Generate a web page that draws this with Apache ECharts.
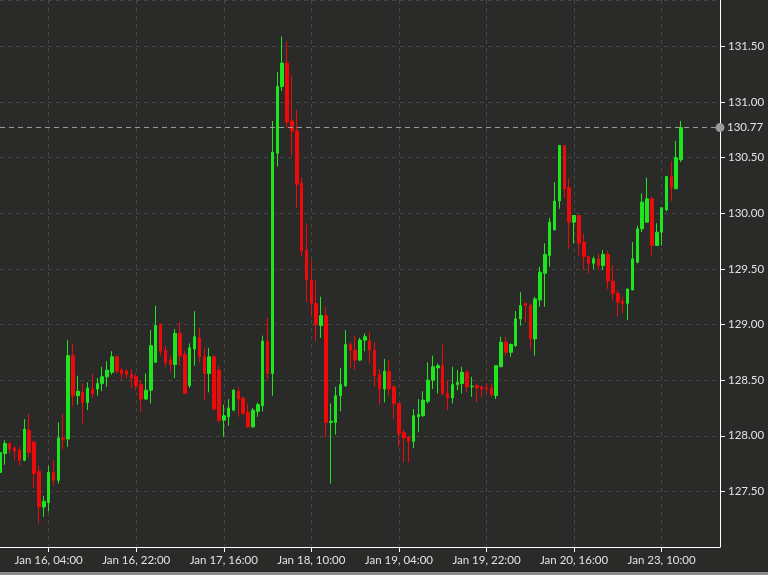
<!DOCTYPE html>
<html>
<head>
<meta charset="utf-8">
<script src="https://cdn.jsdelivr.net/npm/echarts@6/dist/echarts.min.js"></script>
<style>
html,body{margin:0;padding:0;background:#2a2a28;}
#chart{width:768px;height:575px;}
</style>
</head>
<body>
<div id="chart"></div>
<script>
// Hourly candles (weekend gap removed)
const startLabelsFriday = ['Jan 13, 18:00','Jan 13, 19:00','Jan 13, 20:00','Jan 13, 21:00'];
const xTickLabels = ['Jan 16, 04:00','Jan 16, 22:00','Jan 17, 16:00','Jan 18, 10:00','Jan 19, 04:00','Jan 19, 22:00','Jan 20, 16:00','Jan 23, 10:00'];
const yTicks = [127.5,128.0,128.5,129.0,129.5,130.0,130.5,131.0,131.5];
const lastPrice = 130.77;

const opens = [
127.67,127.84,127.93,127.89,127.87,127.78,128.05,127.94,127.68,127.36,
127.40,127.67,127.60,127.98,127.97,128.72,128.36,128.39,128.30,128.42,
128.42,128.47,128.53,128.57,128.71,128.59,128.58,128.55,128.53,128.46,
128.33,128.41,128.66,129.00,128.77,128.68,128.64,128.92,128.73,128.45,
128.78,128.88,128.71,128.56,128.71,128.59,128.14,128.17,128.23,128.40,
128.34,128.21,128.08,128.22,128.27,128.85,128.56,130.54,131.14,131.35,
130.83,130.74,130.27,129.67,129.40,129.19,128.99,129.08,128.12,128.12,
128.36,128.45,128.82,128.77,128.68,128.86,128.85,128.77,128.55,128.42,
128.58,128.44,128.29,128.03,127.99,127.95,128.17,128.18,128.31,128.50,
128.61,128.63,128.38,128.34,128.46,128.47,128.57,128.44,128.45,128.44,
128.43,128.43,128.36,128.62,128.84,128.75,128.81,129.05,129.19,129.17,
128.87,129.22,129.46,129.62,129.85,130.11,130.61,130.23,129.92,129.98,
129.74,129.61,129.55,129.59,129.53,129.63,129.39,129.28,129.21,129.19,
129.31,129.56,129.86,129.92,130.13,129.71,129.83,130.03,130.33,130.22,
130.48];
const closes = [
127.85,127.93,127.88,127.86,127.78,128.06,127.85,127.66,127.36,127.41,
127.67,127.60,127.98,127.97,128.72,128.36,128.40,128.30,128.43,128.38,
128.47,128.53,128.59,128.71,128.58,128.56,128.55,128.52,128.45,128.33,
128.41,128.81,128.99,128.76,128.66,128.64,128.92,128.72,128.38,128.79,
128.89,128.71,128.56,128.71,128.24,128.14,128.18,128.25,128.41,128.33,
128.20,128.08,128.23,128.28,128.85,128.56,130.55,131.14,131.35,130.82,
130.74,130.26,129.66,129.40,129.19,129.00,129.08,128.12,128.13,128.36,
128.46,128.82,128.77,128.68,128.86,128.89,128.77,128.54,128.42,128.58,
128.42,128.29,128.02,127.98,127.95,128.18,128.19,128.32,128.50,128.62,
128.63,128.38,128.34,128.46,128.48,128.57,128.44,128.445,128.43,128.42,
128.42,128.37,128.63,128.84,128.75,128.82,129.05,129.17,129.17,128.87,
129.23,129.47,129.63,129.92,130.11,130.61,130.22,129.92,129.98,129.73,
129.61,129.55,129.59,129.53,129.63,129.39,129.28,129.20,129.19,129.32,
129.59,129.86,130.10,130.13,129.71,129.83,130.05,130.33,130.23,130.50,
130.77];
const lows = [
127.63,127.74,127.84,127.78,127.73,127.77,127.80,127.53,127.21,127.27,
127.32,127.55,127.57,127.88,127.90,128.27,128.28,128.11,128.23,128.34,
128.36,128.40,128.44,128.55,128.56,128.50,128.52,128.43,128.41,128.21,
128.32,128.29,128.66,128.72,128.62,128.57,128.52,128.63,128.38,128.43,
128.63,128.66,128.32,128.39,128.23,128.12,127.99,128.09,128.22,128.17,
128.19,128.07,128.07,128.17,128.22,128.51,128.36,130.42,131.10,130.77,
130.52,130.05,129.61,129.20,129.07,128.85,128.88,127.99,127.57,128.01,
128.22,128.44,128.61,128.59,128.67,128.76,128.65,128.44,128.28,128.30,
128.36,128.15,127.90,127.76,127.76,127.89,128.03,128.17,128.29,128.42,
128.38,128.36,128.23,128.29,128.41,128.38,128.39,128.35,128.30,128.35,
128.38,128.35,128.33,128.62,128.72,128.71,128.80,128.99,129.02,128.78,
128.72,129.16,129.16,129.52,129.85,130.04,130.14,129.68,129.73,129.62,
129.49,129.46,129.50,129.49,129.49,129.32,129.22,129.07,129.10,129.04,
129.31,129.55,129.83,129.92,129.62,129.71,129.71,130.02,130.11,130.22,
130.46];
const highs = [
127.88,127.96,127.94,127.91,127.90,128.15,128.20,127.96,127.73,127.46,
127.73,127.78,128.12,128.20,128.86,128.83,128.54,128.47,128.48,128.56,
128.52,128.62,128.67,128.76,128.72,128.61,128.60,128.60,128.56,128.50,
128.56,128.95,129.17,129.01,128.81,128.72,128.96,129.02,128.77,128.83,
129.12,128.97,128.79,128.79,128.72,128.63,128.28,128.33,128.42,128.44,
128.35,128.29,128.25,128.30,128.90,129.06,130.83,131.27,131.59,131.54,
131.24,130.93,130.32,129.91,129.58,129.40,129.25,129.16,128.29,128.44,
128.61,128.95,128.84,128.90,128.88,128.92,128.93,128.84,128.60,128.69,
128.68,128.45,128.29,128.06,128.00,128.24,128.33,128.40,128.66,128.72,
128.65,128.82,128.50,128.62,128.59,128.62,128.59,128.53,128.47,128.45,
128.47,128.47,128.63,128.89,128.89,128.83,129.12,129.29,129.19,129.19,
129.25,129.52,129.73,129.96,130.28,130.61,130.61,130.31,129.98,129.98,
129.82,129.61,129.61,129.64,129.67,129.66,129.53,129.31,129.25,129.32,
129.74,129.89,130.18,130.32,130.15,129.91,130.05,130.33,130.47,130.65,
130.83];

// Build hourly category labels: Friday Jan 13 close, then from Sunday Jan 15 22:00,
// skipping the weekend after Friday Jan 20 21:00.
const MONTH = 'Jan';
function fmt(d, h) { return MONTH + ' ' + d + ', ' + String(h).padStart(2, '0') + ':00'; }
const categories = startLabelsFriday.slice();
let day = 15, hour = 22;
while (categories.length < 149) {
  categories.push(fmt(day, hour));
  hour++;
  if (hour === 24) { hour = 0; day++; }
  if (day === 20 && hour === 22) { day = 22; hour = 22; }
}

const candleData = opens.map((o, i) => [o, closes[i], lows[i], highs[i]]);
const showTick = (idx) => xTickLabels.indexOf(categories[idx]) !== -1;

const UP = '#1ee61e';
const DOWN = '#ee0a0a';
const FONT = 'Lato, "Open Sans", sans-serif';

const chart = echarts.init(document.getElementById('chart'), null, {renderer: 'canvas'});
chart.setOption({
  backgroundColor: '#2a2a28',
  animation: false,
  grid: {left: 0, right: 48, top: 0, bottom: 28, containLabel: false},
  xAxis: {
    type: 'category',
    data: categories,
    boundaryGap: false,
    axisLine: {show: true, lineStyle: {color: '#ffffff', width: 1}},
    axisTick: {show: true, interval: showTick, length: 5, lineStyle: {color: '#ffffff'}},
    axisLabel: {interval: showTick, color: '#e2e2e2', fontSize: 11.5, fontFamily: FONT, margin: 7},
    splitLine: {show: true, interval: showTick, lineStyle: {color: '#464646', type: [4, 4], width: 1}}
  },
  yAxis: {
    type: 'value',
    position: 'right',
    min: 127.0,
    max: 131.917,
    interval: 0.5,
    axisLine: {show: true, lineStyle: {color: '#ffffff', width: 1}},
    axisTick: {show: true, length: 5, lineStyle: {color: '#ffffff'}},
    axisLabel: {
      color: '#e2e2e2', fontSize: 11.5, fontFamily: FONT, margin: 8,
      showMinLabel: false, showMaxLabel: false,
      formatter: (v) => yTicks.some(t => Math.abs(t - v) < 1e-6) ? v.toFixed(2) : ''
    },
    splitLine: {show: true, lineStyle: {color: '#464646', type: [4, 4], width: 1}}
  },
  series: [{
    type: 'candlestick',
    data: candleData,
    barWidth: 3,
    itemStyle: {
      color: UP, color0: DOWN,
      borderColor: UP, borderColor0: DOWN,
      borderColorDoji: UP,
      borderWidth: 1
    },
    markLine: {
      silent: true,
      symbol: ['none', 'circle'],
      symbolSize: 9,
      data: [{yAxis: lastPrice}],
      lineStyle: {color: '#9a9a9a', type: [5, 4], width: 1},
      itemStyle: {color: '#9a9a9a'},
      label: {
        show: true, position: 'end', distance: 7,
        color: '#e2e2e2', fontSize: 11.5, fontFamily: FONT,
        formatter: () => lastPrice.toFixed(2)
      },
      emphasis: {disabled: true}
    }
  }],
  graphic: [{
    type: 'rect', left: 0, top: 572,
    shape: {width: 768, height: 3},
    style: {fill: '#8c8c8c'}, silent: true
  }]
});
</script>
</body>
</html>
